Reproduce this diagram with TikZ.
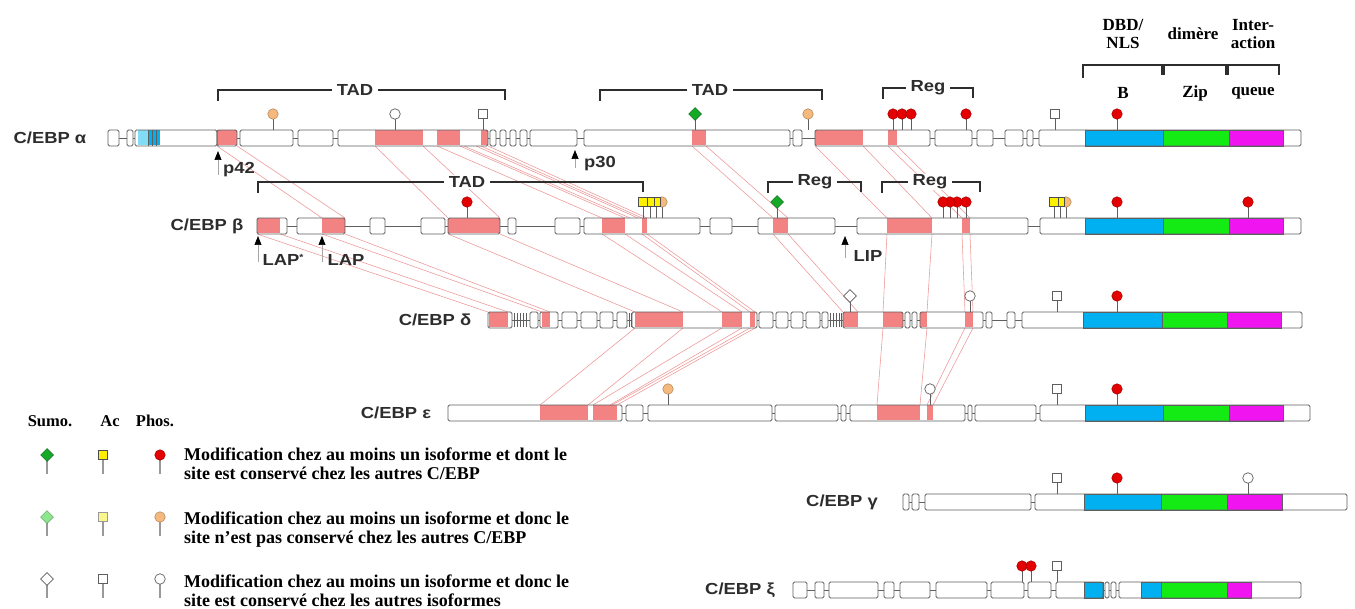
\documentclass[tikz,border=0pt]{standalone}
\usepackage{fontspec}
\setmainfont{Liberation Serif}
\newfontfamily\labfont[FakeStretch=1.15]{Liberation Sans}
\usetikzlibrary{arrows.meta,shapes.geometric}
\definecolor{sal}{RGB}{243,130,130}
\definecolor{dbd}{RGB}{0,176,240}
\definecolor{ltc}{RGB}{130,220,245}
\definecolor{zip}{RGB}{20,235,20}
\definecolor{tail}{RGB}{240,20,240}
\definecolor{bord}{RGB}{95,95,95}
\definecolor{lnkc}{RGB}{238,150,150}
\definecolor{phr}{RGB}{228,0,0}
\definecolor{pho}{RGB}{245,185,125}
\definecolor{sug}{RGB}{20,170,40}
\definecolor{sulg}{RGB}{140,230,140}
\definecolor{acy}{RGB}{255,240,0}
\definecolor{acly}{RGB}{250,245,140}
\definecolor{txtg}{RGB}{45,45,45}
\tikzset{
  bxl/.style={draw=bord,line width=0.9pt,rounded corners=1.5pt},
  conn/.style={draw=bord,line width=0.9pt},
  lnk/.style={draw=lnkc,line width=0.55pt},
  stem/.style={draw=bord,line width=0.8pt},
  stemg/.style={draw=gray!80,line width=1.1pt},
  phR/.style={circle,draw=phr!70!black,fill=phr,minimum size=10.5pt,inner sep=0pt,line width=0.5pt},
  phO/.style={circle,draw=pho!70!black,fill=pho,minimum size=10.5pt,inner sep=0pt,line width=0.5pt},
  phW/.style={circle,draw=bord,fill=white,minimum size=10.5pt,inner sep=0pt,line width=0.7pt},
  acY/.style={rectangle,draw=black!70,fill=acy,minimum size=9pt,inner sep=0pt,line width=0.5pt},
  acLY/.style={rectangle,draw=black!40,fill=acly,minimum size=9pt,inner sep=0pt,line width=0.5pt},
  acW/.style={rectangle,draw=bord,fill=white,minimum size=9pt,inner sep=0pt,line width=0.7pt},
  suG/.style={diamond,aspect=1,draw=sug!60!black,fill=sug,minimum size=13pt,inner sep=0pt,line width=0.5pt},
  suLG/.style={diamond,aspect=1,draw=sulg!70!black,fill=sulg,minimum size=13pt,inner sep=0pt,line width=0.5pt},
  suW/.style={diamond,aspect=1,draw=bord,fill=white,minimum size=13pt,inner sep=0pt,line width=0.7pt},
  lbl/.style={font=\labfont\bfseries\fontsize{16}{18}\selectfont,text=txtg,inner sep=1pt},
  brk/.style={draw=txtg,line width=1.1pt},
  arr/.style={draw=gray!70,line width=0.7pt,-{Triangle[width=7pt,length=9pt,color=black]}},
  hdr/.style={font=\bfseries\fontsize{17}{18}\selectfont,align=center,inner sep=0pt},
  lhd/.style={font=\bfseries\fontsize{16.5}{18}\selectfont,inner sep=0pt},
  leg/.style={font=\bfseries\fontsize{18}{19}\selectfont,align=left,anchor=west,inner sep=0pt},
}
\newcommand\lnk[6]{\draw[lnk] (#1,#3) -- (#4,#6); \draw[lnk] (#2,#3) -- (#5,#6);}
\newcommand\boxfill[1]{\foreach \a/\b in #1 {\fill[white,rounded corners=1.5pt] (\a,\yt) rectangle (\b,\yb);}}
\newcommand\boxdraw[1]{\foreach \a/\b in #1 {\draw[bxl] (\a,\yt) rectangle (\b,\yb);}}
\newcommand\cf[3]{\fill[#1] (#2,\yt+0.5) rectangle (#3,\yb-0.5);}
\newcommand\dom[3]{\filldraw[fill=#1,draw=bord,line width=0.6pt] (#2,\yt) rectangle (#3,\yb);}
\newcommand\mk[2]{\draw[stem] (#2,\yt) -- (#2,\yt-11); \node[#1] (m#2x\yt) at (#2,\yt-16) {};}
\newcommand\brak[6]{\draw[brk] (#1,#3+11) -- (#1,#3) -- (#2,#3) -- (#2,#3+10); \node[lbl,fill=white,inner xsep=5pt] (#6) at (#4,#3) {#5};}
\begin{document}
\begin{tikzpicture}[x=1pt,y=-1pt]
\fill[white] (0,0) rectangle (1355,609);
\useasboundingbox (0,0) rectangle (1355,609);

% ---------- homology links ----------
\lnk{217}{237}{146}{322}{345}{218}
\lnk{375}{423}{146}{448}{500}{218}
\lnk{437}{460}{146}{602}{625}{218}
\lnk{464}{476}{146}{630}{638}{218}
\lnk{481}{488}{146}{642}{647}{218}
\lnk{692}{706}{146}{773}{788}{218}
\lnk{815}{863}{146}{887}{932}{218}
\lnk{888}{897}{146}{962}{970}{218}
\lnk{257}{280}{234}{488}{508}{312}
\lnk{322}{345}{234}{542}{550}{312}
\lnk{448}{500}{234}{635}{683}{312}
\lnk{602}{625}{234}{722}{742}{312}
\lnk{642}{647}{234}{750}{755}{312}
\lnk{773}{788}{234}{843}{858}{312}
\lnk{887}{932}{234}{883}{927}{312}
\lnk{962}{970}{234}{965}{973}{312}
\lnk{635}{683}{328}{540}{588}{405}
\lnk{722}{742}{328}{593}{610}{405}
\lnk{750}{755}{328}{612}{617}{405}
\lnk{883}{927}{328}{877}{920}{405}
\lnk{965}{973}{328}{927}{933}{405}

% ---------- header ----------
\node[hdr] (hdbd) at (1123,34) {DBD/\\NLS};
\node[hdr] (hdim) at (1193,34) {dimère};
\node[hdr] (hint) at (1253,34) {Inter-\\action};
\draw[brk] (1083,78) -- (1083,65) -- (1162,65) -- (1162,75);
\draw[brk] (1164,75) -- (1164,65) -- (1226,65) -- (1226,75);
\draw[brk] (1228,75) -- (1228,65) -- (1279,65) -- (1279,75);
\node[hdr] (hb) at (1123,93) {B};
\node[hdr] (hz) at (1195,93) {Zip};
\node[hdr] (hq) at (1253,93) {queue};

% ---------- C/EBP alpha ----------
\def\yt{130}\def\yb{146}
\brak{218}{505}{90}{355}{TAD}{tadA1}
\brak{600}{822}{90}{710}{TAD}{tadA2}
\brak{883}{973}{88}{928}{Reg}{regA}
\draw[conn] (108,138) -- (1301,138);
\def\LA{108/119,127/133,135/217,217/237,240/293,298/333,338/488,490/496,500/506,510/516,520/527,530/577,584/790,793/802,815/930,935/972,977/993,1005/1023,1027/1033,1039/1301}
\boxfill\LA
\cf{ltc}{138}{148}\cf{dbd}{148}{160}
\draw[bord,line width=0.6pt] (148,130)--(148,146) (152,130)--(152,146) (156,130)--(156,146);
\cf{sal}{217}{237}\cf{sal}{375}{423}\cf{sal}{437}{460}\cf{sal}{481}{488}
\cf{sal}{692}{706}\cf{sal}{815}{863}\cf{sal}{888}{897}
\dom{dbd}{1085}{1163}\dom{zip}{1163}{1229}\dom{tail}{1229}{1283}
\boxdraw\LA
\mk{phO}{273}\mk{phW}{395}\mk{acW}{483}\mk{suG}{695}\mk{phO}{808}
\mk{phR}{893}\mk{phR}{902}\mk{phR}{911}\mk{phR}{966}\mk{acW}{1055}\mk{phR}{1117}
\node[lbl] (la) at (50,138) {C/EBP α};
\draw[arr] (218,175) -- (218,151);
\node[lbl] (p42) at (239,170) {p42};
\draw[arr] (575,168) -- (575,150);
\node[lbl] (p30) at (600,164) {p30};

% ---------- C/EBP beta ----------
\def\yt{218}\def\yb{234}
\brak{258}{643}{182}{467}{TAD}{tadB}
\brak{768}{861}{182}{815}{Reg}{regB1}
\brak{882}{980}{182}{930}{Reg}{regB2}
\draw[conn] (257,226) -- (1301,226);
\def\LB{257/287,297/345,370/385,421/445,448/500,508/516,555/580,584/700,710/732,758/835,857/1028,1040/1301}
\boxfill\LB
\cf{sal}{257}{280}\cf{sal}{322}{345}\cf{sal}{448}{500}\cf{sal}{602}{625}\cf{sal}{642}{647}
\cf{sal}{773}{788}\cf{sal}{887}{932}\cf{sal}{962}{970}
\dom{dbd}{1085}{1163}\dom{zip}{1163}{1229}\dom{tail}{1229}{1283}
\boxdraw\LB
\mk{phR}{467}\mk{phO}{662}\mk{acY}{656}\mk{acY}{650}\mk{acY}{643}
\mk{suG}{777}\mk{phR}{966}\mk{phR}{957}\mk{phR}{950}\mk{phR}{943}
\mk{phO}{1066}\mk{acY}{1060}\mk{acY}{1054}\mk{phR}{1117}\mk{phR}{1248}
\node[lbl] (lb) at (207,226) {C/EBP β};
\draw[arr] (258,262) -- (258,236);
\node[lbl] (lap1) at (283,260) {LAP\raisebox{5pt}{\fontsize{9}{9}\selectfont*}};
\draw[arr] (322,262) -- (322,236);
\node[lbl] (lap2) at (346,260) {LAP};
\draw[arr] (845,258) -- (845,236);
\node[lbl] (lip) at (868,256) {LIP};

% ---------- C/EBP delta ----------
\def\yt{312}\def\yb{328}
\draw[conn] (488,320) -- (1302,320);
\def\LD{488/512,530/538,540/558,562/577,581/597,600/613,617/627,632/757,759/773,776/788,791/803,806/820,822/828,843/903,905/910,912/917,920/983,986/992,1007/1015,1022/1302}
\boxfill\LD
\cf{sal}{489}{508}\cf{sal}{542}{550}\cf{sal}{635}{683}\cf{sal}{722}{742}\cf{sal}{750}{755}
\cf{sal}{843}{858}\cf{sal}{883}{903}\cf{sal}{920}{927}\cf{sal}{965}{973}
\dom{dbd}{1083}{1162}\dom{zip}{1162}{1227}\dom{tail}{1227}{1281}
\boxdraw\LD
\foreach \h in {514,517,520,523,526,629,631,830,833,836,839,841}{\draw[bord,line width=0.7pt] (\h,313) -- (\h,327);}
\mk{suW}{850}\mk{phW}{970}\mk{acW}{1057}\mk{phR}{1117}
\node[lbl] (ld) at (435,320) {C/EBP δ};

% ---------- C/EBP epsilon ----------
\def\yt{405}\def\yb{421}
\draw[conn] (448,413) -- (1310,413);
\def\LE{448/622,626/643,648/772,775/838,841/846,850/965,968/972,975/1036,1040/1310}
\boxfill\LE
\cf{sal}{540}{588}\cf{sal}{593}{617}\cf{sal}{877}{920}\cf{sal}{927}{933}
\dom{dbd}{1085}{1163}\dom{zip}{1163}{1229}\dom{tail}{1229}{1283}
\boxdraw\LE
\mk{phO}{668}\mk{phW}{930}\mk{acW}{1057}\mk{phR}{1117}
\node[lbl] (le) at (396,413) {C/EBP ε};

% ---------- C/EBP gamma ----------
\def\yt{494}\def\yb{510}
\draw[conn] (903,502) -- (1347,502);
\def\LG{903/909,912/919,925/1031,1035/1347}
\boxfill\LG
\dom{dbd}{1084}{1161}\dom{zip}{1161}{1227}\dom{tail}{1227}{1282}
\boxdraw\LG
\mk{acW}{1057}\mk{phR}{1117}\mk{phW}{1248}
\node[lbl] (lg) at (842,502) {C/EBP γ};

% ---------- C/EBP xi ----------
\def\yt{582}\def\yb{598}
\draw[conn] (793,590) -- (1301,590);
\def\LX{793/807,815/824,829/878,884/894,900/930,936/987,991/1024,1028/1051,1056/1103,1105/1109,1111/1116,1119/1301}
\boxfill\LX
\dom{dbd}{1084}{1103}\dom{dbd}{1141}{1161}\dom{zip}{1161}{1227}\dom{tail}{1227}{1251}
\boxdraw\LX
\mk{phR}{1022}\mk{phR}{1031}\mk{acW}{1057}
\node[lbl] (lx) at (740,590) {C/EBP ξ};

% ---------- legend ----------
\node[lhd] (lsu) at (50,421) {Sumo.};
\node[lhd] (lac) at (110,421) {Ac};
\node[lhd] (lph) at (155,421) {Phos.};
\foreach \x/\s/\n in {47/suG/a,103/acY/b,160/phR/c}{\draw[stemg] (\x,474) -- (\x,459); \node[\s] (k1\n) at (\x,455) {};}
\foreach \x/\s/\n in {47/suLG/a,103/acLY/b,160/phO/c}{\draw[stemg] (\x,536) -- (\x,521); \node[\s] (k2\n) at (\x,517) {};}
\foreach \x/\s/\n in {47/suW/a,103/acW/b,160/phW/c}{\draw[stemg] (\x,598) -- (\x,583); \node[\s] (k3\n) at (\x,579) {};}
\node[leg] (t1) at (184,464) {Modification chez au moins un isoforme et dont le\\site est conservé chez les autres C/EBP};
\node[leg] (t2) at (184,530) {Modification chez au moins un isoforme et donc le\\site n’est pas conservé chez les autres C/EBP};
\node[leg] (t3) at (184,591) {Modification chez au moins un isoforme et donc le\\site est conservé chez les autres isoformes};
\end{tikzpicture}
\end{document}
